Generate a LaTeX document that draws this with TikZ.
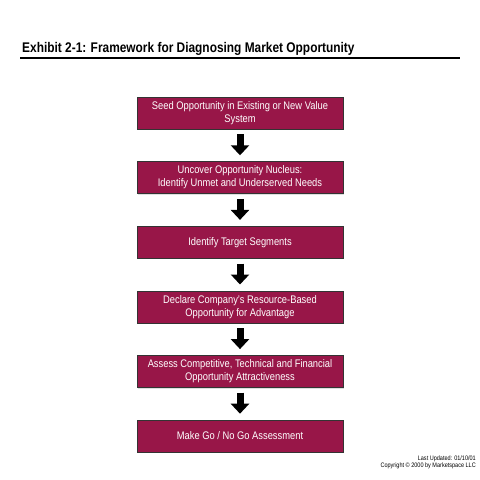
\documentclass[tikz,border=0pt]{standalone}
\usepackage{fontspec}
\setmainfont[FakeStretch=0.85]{Liberation Sans}
\usetikzlibrary{arrows.meta, positioning, shadows}
\definecolor{stepred}{RGB}{152,22,72}

\begin{document}
\begin{tikzpicture}[
  x=1pt, y=-1pt,
  node distance=32pt,
  stepbox/.style={rectangle, draw=black!80, line width=0.6pt, fill=stepred, text=white,
    minimum width=206pt, minimum height=32pt, align=center, font=\fontsize{11}{13}\selectfont,
    drop shadow={shadow xshift=1.2pt, shadow yshift=-1.2pt, fill=black!25}},
  flow/.style={-{Triangle[width=18pt, length=10pt]}, line width=7pt, black}
]
  \useasboundingbox[fill=white] (0,0) rectangle (480,480);

  % title
  \node[anchor=base west, font=\fontsize{14}{16}\selectfont\bfseries, inner sep=0pt] (title) at (22,52)
    {Exhibit 2-1: Framework for Diagnosing Market Opportunity};
  \coordinate (rulel) at (20,58);
  \coordinate (ruler) at (460,58);
  \draw[line width=1.8pt] (rulel) -- (ruler);

  % steps
  \node[stepbox] (seed) at (240,113) {Seed Opportunity in Existing or New Value\\System};
  \node[stepbox, below=of seed] (nucleus) {Uncover Opportunity Nucleus:\\Identify Unmet and Underserved Needs};
  \node[stepbox, below=of nucleus] (target) {Identify Target Segments};
  \node[stepbox, below=of target] (declare) {Declare Company's Resource-Based\\Opportunity for Advantage};
  \node[stepbox, below=of declare] (assess) {Assess Competitive, Technical and Financial\\Opportunity Attractiveness};
  \node[stepbox, below=of assess] (gonogo) {Make Go / No Go Assessment};

  \foreach \a/\b in {seed/nucleus, nucleus/target, target/declare, declare/assess, assess/gonogo}
    \draw[flow] ([yshift=-5pt]\a.south) -- ([yshift=6pt]\b.north);

  % footer
  \node[anchor=base east, font=\fontsize{6.5}{7.5}\selectfont, inner sep=0pt] (updated) at (476,460)
    {Last Updated: 01/10/01};
  \node[font=\fontsize{6.5}{7.5}\selectfont, inner sep=0pt, below=2.5pt of updated.base east, anchor=north east] (copyright)
    {Copyright \textcopyright\ 2000 by Marketspace LLC};
\end{tikzpicture}
\end{document}
